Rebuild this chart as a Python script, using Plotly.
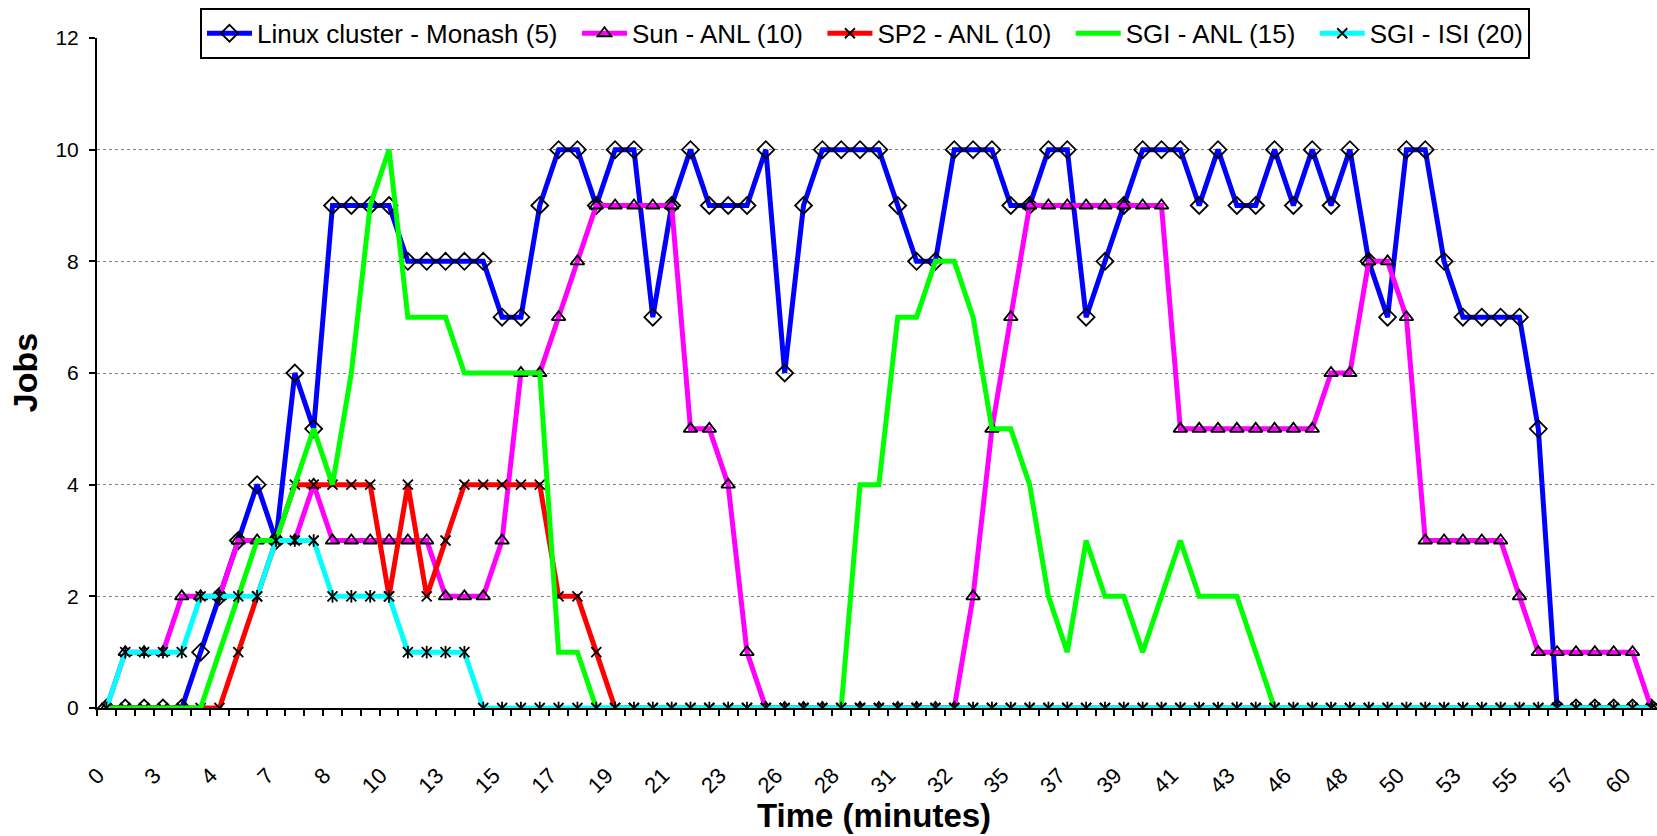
import plotly.graph_objects as go

# Time axis labels (minutes), shown on every third sample
time_labels = ["0", "3", "4", "7", "8", "10", "13", "15", "17", "19", "21", "23", "26", "28",
               "31", "32", "35", "37", "39", "41", "43", "46", "48", "50", "53", "55", "57", "60"]

# Jobs running on each resource at each sample
linux_monash = [0, 0, 0, 0, 0, 1, 2, 3, 4, 3,
                6, 5, 9, 9, 9, 9, 8, 8, 8, 8,
                8, 7, 7, 9, 10, 10, 9, 10, 10, 7,
                9, 10, 9, 9, 9, 10, 6, 9, 10, 10,
                10, 10, 9, 8, 8, 10, 10, 10, 9, 9,
                10, 10, 7, 8, 9, 10, 10, 10, 9, 10,
                9, 9, 10, 9, 10, 9, 10, 8, 7, 10,
                10, 8, 7, 7, 7, 7, 5, 0, 0, 0,
                0, 0, 0]
sun_anl = [0, 1, 1, 1, 2, 2, 2, 3, 3, 3,
           3, 4, 3, 3, 3, 3, 3, 3, 2, 2,
           2, 3, 6, 6, 7, 8, 9, 9, 9, 9,
           9, 5, 5, 4, 1, 0, 0, 0, 0, 0,
           0, 0, 0, 0, 0, 0, 2, 5, 7, 9,
           9, 9, 9, 9, 9, 9, 9, 5, 5, 5,
           5, 5, 5, 5, 5, 6, 6, 8, 8, 7,
           3, 3, 3, 3, 3, 2, 1, 1, 1, 1,
           1, 1, 0]
sp2_anl = [0, 0, 0, 0, 0, 0, 0, 1, 2, 3,
           4, 4, 4, 4, 4, 2, 4, 2, 3, 4,
           4, 4, 4, 4, 2, 2, 1, 0, 0, 0,
           0, 0, 0, 0, 0, 0, 0, 0, 0, 0,
           0, 0, 0, 0, 0, 0, 0, 0, 0, 0,
           0, 0, 0, 0, 0, 0, 0, 0, 0, 0,
           0, 0, 0, 0, 0, 0, 0, 0, 0, 0,
           0, 0, 0, 0, 0, 0, 0, 0, 0, 0,
           0, 0, 0]
sgi_anl = [0, 0, 0, 0, 0, 0, 1, 2, 3, 3,
           4, 5, 4, 6, 9, 10, 7, 7, 7, 6,
           6, 6, 6, 6, 1, 1, 0, 0, 0, 0,
           0, 0, 0, 0, 0, 0, 0, 0, 0, 0,
           4, 4, 7, 7, 8, 8, 7, 5, 5, 4,
           2, 1, 3, 2, 2, 1, 2, 3, 2, 2,
           2, 1, 0, 0, 0, 0, 0, 0, 0, 0,
           0, 0, 0, 0, 0, 0, 0, 0, 0, 0,
           0, 0, 0]
sgi_isi = [0, 1, 1, 1, 1, 2, 2, 2, 2, 3,
           3, 3, 2, 2, 2, 2, 1, 1, 1, 1,
           0, 0, 0, 0, 0, 0, 0, 0, 0, 0,
           0, 0, 0, 0, 0, 0, 0, 0, 0, 0,
           0, 0, 0, 0, 0, 0, 0, 0, 0, 0,
           0, 0, 0, 0, 0, 0, 0, 0, 0, 0,
           0, 0, 0, 0, 0, 0, 0, 0, 0, 0,
           0, 0, 0, 0, 0, 0, 0, 0, 0, 0,
           0, 0, 0]

n = len(linux_monash)
idx = list(range(n))
FONT = "Arial, Liberation Sans, sans-serif"
LW = 5
PAD = "\u00a0\u00a0"  # extra room between legend entries

fig = go.Figure()
fig.add_trace(go.Scatter(
    x=idx, y=linux_monash, name="Linux cluster - Monash (5)" + PAD, mode="lines+markers",
    line=dict(color="#0000FF", width=LW),
    marker=dict(symbol="diamond-open", size=13, color="black", line=dict(width=1.8))))
fig.add_trace(go.Scatter(
    x=idx, y=sun_anl, name="Sun - ANL (10)" + PAD, mode="lines+markers",
    line=dict(color="#FF00FF", width=LW),
    marker=dict(symbol="triangle-up-open", size=12, color="black", line=dict(width=1.8))))
fig.add_trace(go.Scatter(
    x=idx, y=sp2_anl, name="SP2 - ANL (10)" + PAD, mode="lines+markers",
    line=dict(color="#FF0000", width=LW),
    marker=dict(symbol="x-thin-open", size=10, color="black", line=dict(width=1.8))))
fig.add_trace(go.Scatter(
    x=idx, y=sgi_anl, name="SGI - ANL (15)" + PAD, mode="lines",
    line=dict(color="#00FF00", width=LW)))
fig.add_trace(go.Scatter(
    x=idx, y=sgi_isi, name="SGI - ISI (20)", mode="lines+markers",
    line=dict(color="#00FFFF", width=LW),
    marker=dict(symbol="x-thin-open", size=10, color="black", line=dict(width=1.8))))
# vertical stroke that turns the cross into a star marker
fig.add_trace(go.Scatter(
    x=idx, y=sgi_isi, mode="markers", showlegend=False, hoverinfo="skip",
    marker=dict(symbol="line-ns-open", size=9, color="black", line=dict(width=1.8))))

fig.update_layout(
    width=1657, height=836, autosize=False,
    margin=dict(l=97, r=0, t=38, b=128),
    paper_bgcolor="white", plot_bgcolor="white",
    font=dict(family=FONT, color="black"),
    legend=dict(
        orientation="h", x=0.066, xanchor="left", y=1.045, yanchor="top",
        bgcolor="white", bordercolor="black", borderwidth=2,
        font=dict(size=26, family=FONT), itemwidth=45, tracegroupgap=0),
    xaxis=dict(
        range=[-0.5, 82.3], showgrid=False, zeroline=False,
        showline=True, linecolor="black", linewidth=2,
        tickmode="array", tickvals=[3 * k - 0.45 for k in range(len(time_labels))],
        ticktext=time_labels, ticks="", tickangle=-45,
        tickfont=dict(size=22, family=FONT), ticklabelstandoff=44,
        minor=dict(tickmode="array", tickvals=[i - 0.5 for i in range(n + 1)],
                   ticks="outside", ticklen=6, tickwidth=1.5, tickcolor="black")),
    yaxis=dict(
        range=[0, 12], tickmode="linear", tick0=0, dtick=2,
        showgrid=True, gridcolor="#7f7f7f", gridwidth=1, griddash="dot",
        zeroline=False, showline=True, linecolor="black", linewidth=2,
        ticks="outside", ticklen=6, tickwidth=1.5, tickcolor="black",
        tickfont=dict(size=21, family=FONT), ticklabelstandoff=6),
    annotations=[
        dict(text="<b>Time (minutes)</b>", xref="paper", yref="paper",
             x=0.498, y=-0.161, xanchor="center", yanchor="middle",
             showarrow=False, font=dict(size=33, family=FONT)),
        dict(text="<b>Jobs</b>", xref="paper", yref="paper",
             x=-0.046, y=0.5, xanchor="center", yanchor="middle", textangle=-90,
             showarrow=False, font=dict(size=34, family=FONT)),
    ],
)

fig.write_html("out.html")
